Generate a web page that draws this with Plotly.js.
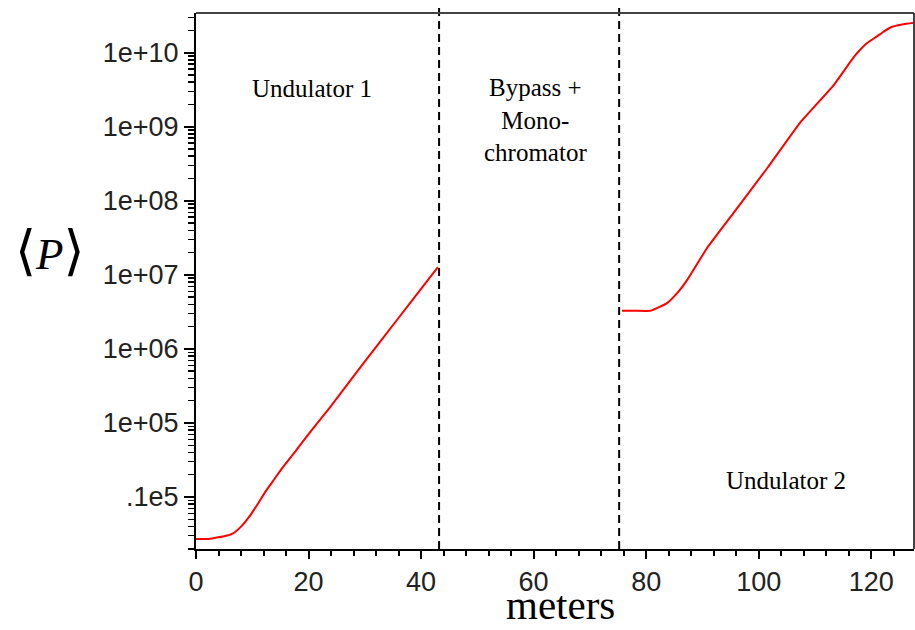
<!DOCTYPE html>
<html>
<head>
<meta charset="utf-8">
<script src="https://cdn.plot.ly/plotly-3.0.1.min.js"></script>
<style>
  html, body { margin: 0; padding: 0; background: #fff; }
  #chart { width: 915px; height: 630px; }
</style>
</head>
<body>
<div id="chart"></div>
<script>
// Mean radiation power <P> along the beamline (metres)
// First undulator: start-up from noise and exponential gain
const und1Z = [0, 2.0, 3.3, 5.0, 6.5, 8.0, 9.5, 11.0, 12.4, 14.0, 15.4, 17.8, 20.0, 23.7, 29.6, 35.6, 41.5, 43.0];
const und1P = [2710, 2710, 2800, 2950, 3200, 3980, 5470, 8130, 12020, 17780, 25120, 42660, 70790, 158500, 616600, 2399000, 9120000, 12700000];

// Second undulator: seeded by the monochromatized pulse, saturating near the end
const und2Z = [75.7, 78.0, 80.7, 81.9, 83.7, 85.5, 87.3, 90.8, 95.5, 101.5, 107.4, 113.3, 117.0, 119.2, 121.0, 122.2, 123.4, 125.5, 127.8];
const und2P = [3270000, 3270000, 3270000, 3560000, 4150000, 5660000, 8570000, 22900000, 68100000, 275000000, 1148000000, 3630000000, 8910000000, 13400000000, 16600000000, 19200000000, 21900000000, 24000000000, 25400000000];

// Section boundaries (metres)
const boundaries = [43.2, 75.2];

// Section captions: x in metres, vertical position on the plot, text
const sectionX = [20.6, 60.3, 104.9];
const sectionY = [0.860, 0.800, 0.1287];
const sectionText = ["Undulator 1", "Bypass +<br>Mono-<br>chromator", "Undulator 2"];

// Decade tick labels, as printed on the power axis
const yLabelAlias = {
  "1e+4": ".1e5", "1e+5": "1e+05", "1e+6": "1e+06", "1e+7": "1e+07",
  "1e+8": "1e+08", "1e+9": "1e+09", "1e+10": "1e+10"
};

const lineStyle = { color: "#ff0000", width: 2, shape: "spline", smoothing: 0.4 };

const traces = [
  { x: und1Z, y: und1P, type: "scatter", mode: "lines", line: lineStyle, hoverinfo: "x+y", showlegend: false },
  { x: und2Z, y: und2P, type: "scatter", mode: "lines", line: lineStyle, hoverinfo: "x+y", showlegend: false }
];

const shapes = boundaries.map(b => ({
  type: "line", xref: "x", yref: "paper",
  x0: b, x1: b, y0: 0, y1: 1.015,
  line: { color: "#000", width: 2, dash: "8px,5px" }
}));
// frame on the top and right edges
shapes.push({ type: "line", xref: "paper", yref: "paper", x0: 0, x1: 1, y0: 1, y1: 1, line: { color: "#444", width: 2 } });
shapes.push({ type: "line", xref: "paper", yref: "paper", x0: 1, x1: 1, y0: 0, y1: 1, line: { color: "#444", width: 2 } });

const serif = "Liberation Serif, Times New Roman, serif";

const annotations = sectionText.map((t, i) => ({
  xref: "x", yref: "paper", x: sectionX[i], y: sectionY[i],
  text: t, showarrow: false, align: "center",
  xanchor: "center", yanchor: "middle",
  font: { family: serif, size: 25, color: "#000" }
}));
// vertical quantity label <P>
annotations.push({
  xref: "paper", yref: "paper", x: -0.2033, y: 0.556,
  xanchor: "center", yanchor: "middle", showarrow: false,
  text: "<span style=\"font-size:54px\">⟨</span><i>P</i><span style=\"font-size:54px\">⟩</span>",
  font: { family: "Liberation Serif, DejaVu Serif, serif", size: 45, color: "#000" }
});
// horizontal quantity label, kept inside the bottom edge
annotations.push({
  xref: "paper", yref: "paper", x: 0.507, y: -0.1515,
  xanchor: "center", yanchor: "bottom", showarrow: false,
  text: "meters",
  font: { family: serif, size: 41, color: "#000" }
});

const tickFont = { family: "Liberation Sans, Arial, sans-serif", size: 27, color: "#222" };

const layout = {
  width: 915, height: 630,
  margin: { l: 196, r: 1, t: 13, b: 81 },
  paper_bgcolor: "#fff", plot_bgcolor: "#fff",
  showlegend: false,
  xaxis: {
    range: [0, 127.6],
    tickmode: "linear", tick0: 0, dtick: 20,
    ticks: "outside", ticklen: 8, tickwidth: 2, tickcolor: "#000",
    minor: { tick0: 0, dtick: 4, ticks: "outside", ticklen: 5, tickwidth: 2, tickcolor: "#000" },
    showline: true, linecolor: "#000", linewidth: 2,
    showgrid: false, zeroline: false,
    tickfont: tickFont
  },
  yaxis: {
    type: "log",
    range: [3.298, 10.536],
    tickmode: "linear", tick0: 0, dtick: 1,
    tickformat: ".0e",
    labelalias: yLabelAlias,
    ticks: "outside", ticklen: 10, tickwidth: 2, tickcolor: "#000",
    minor: { dtick: "D1", ticks: "outside", ticklen: 6, tickwidth: 1.5, tickcolor: "#000" },
    showline: true, linecolor: "#000", linewidth: 2,
    showgrid: false, zeroline: false,
    tickfont: tickFont
  },
  shapes: shapes,
  annotations: annotations
};

Plotly.newPlot("chart", traces, layout, { displayModeBar: false, staticPlot: true });
</script>
</body>
</html>
